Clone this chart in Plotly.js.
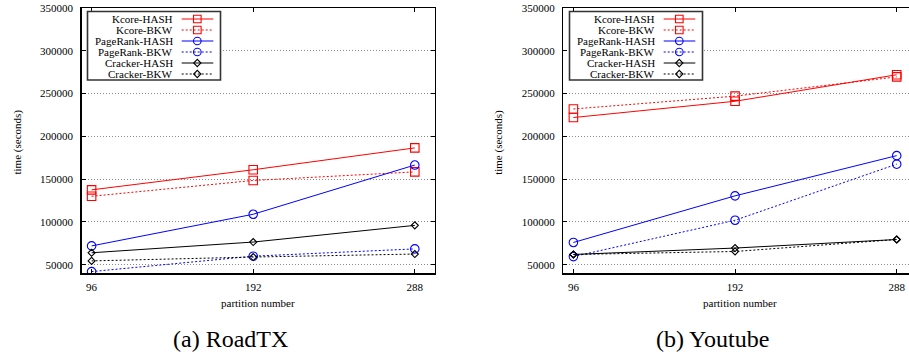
<!DOCTYPE html>
<html><head><meta charset="utf-8">
<script src="https://cdn.plot.ly/plotly-3.0.1.min.js"></script>
<style>html,body{margin:0;padding:0;overflow:hidden;background:#fff}</style>
</head><body><div id="chart" style="width:909px;height:354px"></div>
<script>
// ---------- data ----------
const partitions = [96, 192, 288];
const seriesNames = ['Kcore-HASH', 'Kcore-BKW', 'PageRank-HASH', 'PageRank-BKW', 'Cracker-HASH', 'Cracker-BKW'];

const roadTX_KcoreHASH    = [137500, 161000, 186500];
const roadTX_KcoreBKW     = [130000, 148500, 158500];
const roadTX_PageRankHASH = [72000, 109000, 166500];
const roadTX_PageRankBKW  = [42000, 60000, 68500];
const roadTX_CrackerHASH  = [64000, 76500, 96000];
const roadTX_CrackerBKW   = [54500, 59000, 62500];

const youtube_KcoreHASH    = [222000, 241000, 272000];
const youtube_KcoreBKW     = [232000, 247000, 269500];
const youtube_PageRankHASH = [76000, 130500, 177500];
const youtube_PageRankBKW  = [59500, 102000, 167500];
const youtube_CrackerHASH  = [62000, 69500, 79500];
const youtube_CrackerBKW   = [62000, 65500, 79500];

const yTicks = [50000, 100000, 150000, 200000, 250000, 300000, 350000];
const xTitle = 'partition number';
const yTitle = 'time (seconds)';
const panelCaptions = ['(a) RoadTX', '(b) Youtube'];

// ---------- styles ----------
const W = 909, H = 354;
const FONT = 'Liberation Serif, Times New Roman, serif';
const colors = ['#ff0000', '#ff0000', '#0000ff', '#0000ff', '#000000', '#000000'];
const dashes = ['solid', '2px,2px', 'solid', '2px,2px', 'solid', '2px,2px'];
const symbols = ['square-open', 'square-open', 'circle-open', 'circle-open', 'diamond-open', 'diamond-open'];
const msize = [8.5, 8.5, 8.5, 8.5, 5.4, 5.4];

const px = v => v / W;
const py = v => 1 - v / H;

const panels = [
  {xa: 'x', ya: 'y', data: [roadTX_KcoreHASH, roadTX_KcoreBKW, roadTX_PageRankHASH, roadTX_PageRankBKW, roadTX_CrackerHASH, roadTX_CrackerBKW]},
  {xa: 'x2', ya: 'y2', data: [youtube_KcoreHASH, youtube_KcoreBKW, youtube_PageRankHASH, youtube_PageRankBKW, youtube_CrackerHASH, youtube_CrackerBKW]}
];

const traces = [];
panels.forEach(p => {
  p.data.forEach((vals, i) => {
    traces.push({
      type: 'scatter', mode: 'lines+markers',
      x: partitions, y: vals, xaxis: p.xa, yaxis: p.ya,
      name: seriesNames[i], showlegend: false,
      line: {color: colors[i], width: 1, dash: dashes[i]},
      marker: {symbol: symbols[i], size: msize[i], color: colors[i], line: {color: colors[i], width: 1.1}},
      hoverinfo: 'skip'
    });
  });
});

const tickfont = {family: FONT, size: 11, color: '#000'};
const yDomain = [py(273.3), py(8)];
function xAxis(domain, range, mirror) {
  return {domain: domain, range: range, tickmode: 'array', tickvals: partitions, ticktext: partitions.map(String),
    ticks: 'inside', ticklen: 4, tickwidth: 1, tickcolor: '#000', showline: true, linecolor: '#000', linewidth: 1.3,
    mirror: mirror, showgrid: false, zeroline: false, tickfont: tickfont, ticklabelstandoff: 3, fixedrange: true};
}
function yAxis(mirror) {
  return {domain: yDomain, range: [40000, 350000], tickmode: 'array', tickvals: yTicks, ticktext: yTicks.map(String),
    ticks: 'inside', ticklen: 4, tickwidth: 1, tickcolor: '#000', showline: true, linecolor: '#000', linewidth: 1.3,
    mirror: mirror, showgrid: true, gridcolor: '#8a8a8a', griddash: '1px,2px', gridwidth: 1, zeroline: false,
    tickfont: tickfont, ticklabelstandoff: 5, fixedrange: true};
}

const annotations = [];
const shapes = [];

// axis titles and captions
const panelGeom = [
  {xTitleX: 257.7, yTitleX: 17, capX: 230},
  {xTitleX: 739.7, yTitleX: 498.3, capX: 712}
];
panelGeom.forEach((g, k) => {
  annotations.push({text: xTitle, xref: 'paper', yref: 'paper', x: px(g.xTitleX), y: py(302.5), xanchor: 'center', yanchor: 'middle', showarrow: false, font: {family: FONT, size: 11, color: '#000'}});
  annotations.push({text: yTitle, xref: 'paper', yref: 'paper', x: px(g.yTitleX), y: py(142.5), xanchor: 'center', yanchor: 'middle', textangle: -90, showarrow: false, font: {family: FONT, size: 11, color: '#000'}});
  annotations.push({text: panelCaptions[k], xref: 'paper', yref: 'paper', x: px(g.capX), y: py(339), xanchor: 'center', yanchor: 'middle', showarrow: false, font: {family: FONT, size: 24, color: '#000'}});
});

// legends (gnuplot style: text on the left, sample on the right)
function addLegend(off) {
  shapes.push({type: 'rect', xref: 'paper', yref: 'paper', x0: px(87.5 + off), x1: px(220.5 + off), y0: py(80), y1: py(11.5),
    fillcolor: '#ffffff', line: {color: '#333', width: 1.6}, layer: 'above'});
  seriesNames.forEach((name, i) => {
    const yy = 19 + i * 11;
    annotations.push({text: name, xref: 'paper', yref: 'paper', x: px(174.5 + off), y: py(yy), xanchor: 'right', yanchor: 'middle', showarrow: false, font: {family: FONT, size: 11, color: '#000'}});
    shapes.push({type: 'line', xref: 'paper', yref: 'paper', x0: px(181.7 + off), x1: px(213.3 + off), y0: py(yy), y1: py(yy),
      line: {color: colors[i], width: 1, dash: dashes[i]}, layer: 'above'});
    const base = {xref: 'paper', yref: 'paper', xsizemode: 'pixel', ysizemode: 'pixel', xanchor: px(197.3 + off), yanchor: py(yy),
      line: {color: colors[i], width: 1.1}, fillcolor: 'rgba(255,255,255,0)', layer: 'above'};
    if (symbols[i].startsWith('square')) shapes.push(Object.assign({type: 'rect', x0: -3.8, x1: 3.8, y0: -3.8, y1: 3.8}, base));
    else if (symbols[i].startsWith('circle')) shapes.push(Object.assign({type: 'circle', x0: -3.8, x1: 3.8, y0: -3.8, y1: 3.8}, base));
    else shapes.push(Object.assign({type: 'path', path: 'M0,-3.6L3.6,0L0,3.6L-3.6,0Z'}, base));
  });
}
addLegend(0);
addLegend(482);

const layout = {
  width: W, height: H, margin: {l: 0, r: 0, t: 0, b: 0},
  paper_bgcolor: '#fff', plot_bgcolor: '#fff', showlegend: false,
  xaxis: Object.assign(xAxis([px(81.5), px(435)], [90, 300], 'allticks'), {anchor: 'y'}),
  yaxis: Object.assign(yAxis('allticks'), {anchor: 'x'}),
  xaxis2: Object.assign(xAxis([px(563.3), 1], [90, 295.3], 'allticks'), {anchor: 'y2'}),
  yaxis2: Object.assign(yAxis(false), {anchor: 'x2'}),
  annotations: annotations, shapes: shapes
};

Plotly.newPlot('chart', traces, layout, {displayModeBar: false, staticPlot: true});
</script></body></html>
